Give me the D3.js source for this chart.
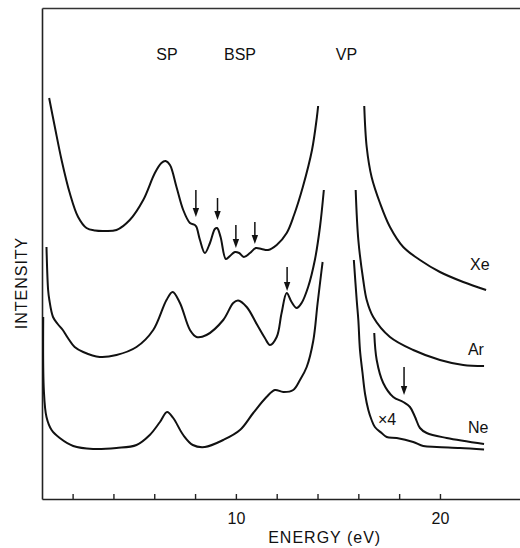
<!DOCTYPE html>
<html>
<head>
<meta charset="utf-8">
<script src="https://cdn.jsdelivr.net/npm/d3@7"></script>
<style>
  body { margin: 0; background: #fff; }
  svg { display: block; font-family: "Liberation Sans", Arial, sans-serif; }
  .label { font-size: 16px; fill: #111; }
</style>
</head>
<body>
<svg width="520" height="548"></svg>
<script>
// energy (eV), intensity (arb. units)
const xeLow = [[0.85,401],[1.13,372],[1.46,339],[1.86,306],[2.27,282],[2.68,271],[3.1,268.5],[3.5,268],[4.15,269],[4.8,279],[5.46,299],[6.03,326],[6.35,336],[6.55,338],[6.77,334],[7.09,312],[7.42,289],[7.75,276],[7.99,274],[8.07,272],[8.24,259],[8.48,246],[8.73,256],[8.97,270],[9.08,271],[9.25,262],[9.51,240],[9.71,243],[9.95,247],[10.16,246],[10.39,242],[10.69,246],[10.98,251],[11.26,250],[11.58,249],[12.0,254],[12.49,266],[12.85,284],[13.28,312],[13.73,349],[13.97,382],[14.03,393]];
const xeHigh = [[16.29,393],[16.41,352],[16.65,322],[17.06,296],[17.55,272],[18.2,252],[19.02,239],[20.0,227],[21.14,217],[22.26,209]];

const arLow = [[0.72,252],[0.8,209],[0.86,199],[1.04,182],[1.27,175],[1.52,169],[1.77,161],[2.1,152],[2.52,147],[3.33,142],[4.15,144],[5.13,152],[5.95,169],[6.6,199],[6.9,207],[7.26,196],[7.75,169],[8.07,162],[8.56,164],[9.38,179],[9.87,196],[10.11,198.5],[10.53,192],[11.02,175],[11.42,161],[11.67,154],[12.0,162],[12.24,186],[12.49,206],[12.73,197],[12.98,191],[13.22,196],[13.54,212],[13.87,239],[14.12,272],[14.31,309]];
const arHigh = [[15.87,309],[16.0,259],[16.24,219],[16.41,199],[16.73,182],[17.55,162],[18.69,149],[20.0,139],[21.14,134],[22.16,133]];

const neLow = [[0.56,182],[0.59,109],[0.72,82],[0.97,69],[1.37,61],[2.03,53],[3.0,50],[4.15,51],[5.13,54],[5.78,64],[6.28,77],[6.63,87],[6.93,81],[7.42,64],[7.89,54],[8.48,52],[9.38,59],[10.2,69],[10.85,86],[11.5,102],[11.91,109],[12.32,107],[12.81,109],[13.14,119],[13.47,132],[13.79,158],[14.0,195],[14.2,229],[14.25,237]];
const neHigh = [[15.78,239],[15.92,199],[16.0,179],[16.08,149],[16.2,127],[16.33,105],[16.49,89],[16.65,79],[16.81,72],[17.14,66],[17.39,62],[17.88,61],[18.69,57],[19.18,53],[19.84,52],[20.98,51],[22.16,49.5]];
const neX4 = [[16.78,166],[16.9,139],[17.22,116],[17.71,102],[18.2,97],[18.53,92],[18.78,82],[19.02,71],[19.35,66],[20.33,61],[22.16,55]];

// arrows: energy, start intensity, tip intensity
const arrows = [[8.04,309,282],[9.1,301,279],[10.0,274,251],[10.93,277,255],[12.51,232,208],[18.24,132,104]];

const peakNames = ['SP', 'BSP', 'VP'];
const peakEnergies = [6.62, 10.2, 15.42];

const seriesNames = ['Xe', 'Ar', 'Ne', '×4'];
const seriesLabelAt = [[21.47,229],[21.37,144],[21.37,66],[16.96,74]];

const tickValues = [2, 4, 6, 8, 10, 12, 14, 16, 18, 20];
const tickLabels = [10, 20];

const svg = d3.select('svg');
const margin = { top: 8, right: -1.6, bottom: 49, left: 42 };
const width = +svg.attr('width');
const height = +svg.attr('height');
const innerWidth = width - margin.left - margin.right;
const innerHeight = height - margin.top - margin.bottom;

const xScale = d3.scaleLinear().domain([0.5, 24]).range([0, innerWidth]);
const yScale = d3.scaleLinear().domain([0, 491]).range([innerHeight, 0]);

const g = svg.append('g')
  .attr('transform', `translate(${margin.left},${margin.top})`);

// frame: left, top, bottom with inward ticks
const xAxis = d3.axisBottom(xScale)
  .tickValues(tickValues)
  .tickSizeInner(-5)
  .tickSizeOuter(0)
  .tickPadding(14);

const xAxisG = g.append('g')
  .attr('transform', `translate(0,${innerHeight})`)
  .call(xAxis);
xAxisG.selectAll('path, line').attr('stroke', '#222').attr('stroke-width', 1.4);
xAxisG.selectAll('.tick').filter(d => !tickLabels.includes(d)).select('text').remove();
xAxisG.selectAll('text').attr('font-size', 16).attr('fill', '#111')
  .attr('font-family', '"Liberation Sans", Arial, sans-serif');

const yAxisG = g.append('g').call(d3.axisLeft(yScale).ticks(0).tickSizeOuter(0));
yAxisG.selectAll('path').attr('stroke', '#222').attr('stroke-width', 1.6);

const topG = g.append('g').call(d3.axisTop(xScale).ticks(0).tickSizeOuter(0));
topG.selectAll('path').attr('stroke', '#333').attr('stroke-width', 1.3);

xAxisG.append('text')
  .attr('x', xScale(14.35))
  .attr('y', 44)
  .attr('text-anchor', 'middle')
  .attr('letter-spacing', 1)
  .attr('font-size', 16)
  .attr('fill', '#111')
  .text('ENERGY  (eV)');

g.append('text')
  .attr('class', 'label')
  .attr('transform', 'rotate(-90)')
  .attr('x', -(283 - margin.top))
  .attr('y', 27 - margin.left)
  .attr('text-anchor', 'middle')
  .attr('letter-spacing', 1)
  .text('INTENSITY');

// curves
const line = d3.line()
  .x(d => xScale(d[0]))
  .y(d => yScale(d[1]))
  .curve(d3.curveCatmullRom.alpha(0.5));

[xeLow, xeHigh, arLow, arHigh, neLow, neHigh, neX4].forEach(seg => {
  g.append('path')
    .datum(seg)
    .attr('fill', 'none')
    .attr('stroke', '#111')
    .attr('stroke-width', 2)
    .attr('stroke-linejoin', 'round')
    .attr('d', line);
});

// arrows
const headLen = 9;
const headHalf = 3.2;
arrows.forEach(([e, from, to]) => {
  const x = xScale(e);
  const y0 = yScale(from);
  const y1 = yScale(to);
  g.append('line')
    .attr('x1', x).attr('x2', x)
    .attr('y1', y0).attr('y2', y1 - headLen + 1)
    .attr('stroke', '#111')
    .attr('stroke-width', 1.5);
  g.append('path')
    .attr('d', `M${x - headHalf},${y1 - headLen}L${x + headHalf},${y1 - headLen}L${x},${y1}Z`)
    .attr('fill', '#111');
});

// peak labels
g.selectAll('.peak').data(peakNames)
  .enter().append('text')
  .attr('class', 'label peak')
  .attr('x', (d, i) => xScale(peakEnergies[i]))
  .attr('y', yScale(439))
  .attr('text-anchor', 'middle')
  .text(d => d);

// series labels
g.selectAll('.series').data(seriesNames)
  .enter().append('text')
  .attr('class', 'label series')
  .attr('x', (d, i) => xScale(seriesLabelAt[i][0]))
  .attr('y', (d, i) => yScale(seriesLabelAt[i][1]))
  .attr('font-size', d => d === '×4' ? 14 : 16)
  .text(d => d);
</script>
</body>
</html>
